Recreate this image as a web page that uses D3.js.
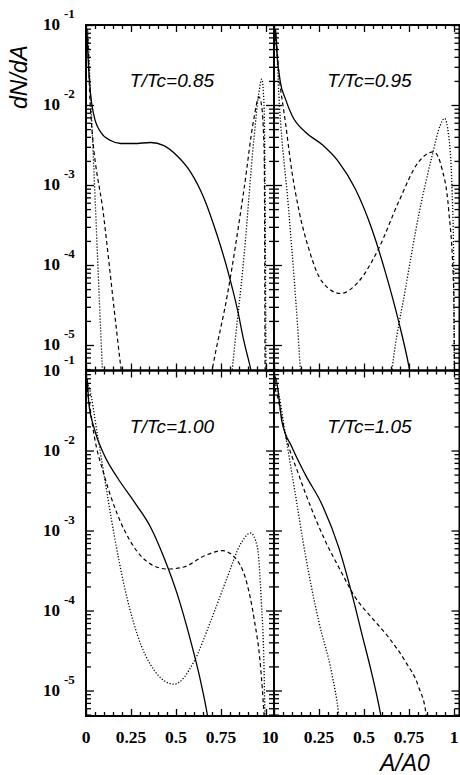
<!DOCTYPE html>
<html>
<head>
<meta charset="utf-8">
<script src="https://cdn.jsdelivr.net/npm/d3@7"></script>
<style>
  body { margin: 0; background: #fff; }
  .tick line { stroke: #000; stroke-width: 1.3; }
  .curve { fill: none; stroke: #000; }
</style>
</head>
<body>
<svg id="chart" width="460" height="775"></svg>
<script>
// [A/A0, dN/dA]
const solid085 = [[0.001,1.1e-1],[0.004,5.6e-2],[0.006,7.9e-2],[0.010,4.5e-2],[0.026,1.32e-2],[0.044,7.4e-3],[0.081,4.6e-3],[0.137,3.6e-3],[0.193,3.3e-3],[0.267,3.3e-3],[0.359,3.4e-3],[0.433,3.1e-3],[0.507,2.3e-3],[0.581,1.45e-3],[0.656,6.8e-4],[0.730,2.3e-4],[0.785,8.9e-5],[0.841,2.8e-5],[0.878,1.1e-5],[0.915,5.0e-6],[0.930,3.5e-6]];
const dashed085a = [[0.001,1.1e-1],[0.005,5.0e-2],[0.008,7.1e-2],[0.022,1.15e-2],[0.100,3.8e-4],[0.193,5.4e-6],[0.200,4.0e-6]];
const dashed085b = [[0.690,3.5e-6],[0.702,5.0e-6],[0.785,4.2e-5],[0.878,8.9e-4],[0.933,6.8e-3],[0.961,1.26e-2],[0.975,1.0e-2],[0.990,2.5e-3],[0.995,3.2e-6]];
const dotted085a = [[0.001,1.1e-1],[0.004,6.3e-2],[0.007,8.9e-2],[0.026,1.2e-2],[0.091,5.0e-6],[0.095,3.2e-6]];
const dotted085b = [[0.805,3.2e-6],[0.813,5.0e-6],[0.878,1.3e-4],[0.933,3.8e-3],[0.960,1.4e-2],[0.977,2.1e-2],[0.989,1.0e-2],[0.996,3.2e-4],[1.000,3.2e-6]];

const solid095 = [[0.001,1.1e-1],[0.004,6.3e-2],[0.007,8.9e-2],[0.017,4.2e-2],[0.035,1.95e-2],[0.063,1.2e-2],[0.100,7.4e-3],[0.174,4.6e-3],[0.267,3.2e-3],[0.359,1.95e-3],[0.452,8.9e-4],[0.544,2.8e-4],[0.619,8.1e-5],[0.693,1.95e-5],[0.748,5.6e-6],[0.760,4.0e-6]];
const dashed095 = [[0.001,1.1e-1],[0.005,5.6e-2],[0.008,7.9e-2],[0.026,2.6e-2],[0.063,6.2e-3],[0.100,1.45e-3],[0.137,5.0e-4],[0.193,1.6e-4],[0.267,6.2e-5],[0.370,4.4e-5],[0.470,6.2e-5],[0.581,1.6e-4],[0.693,6.2e-4],[0.804,1.95e-3],[0.887,2.6e-3],[0.933,1.6e-3],[0.970,5.0e-4],[0.998,5.0e-5],[1.003,3.2e-6]];
const dotted095a = [[0.001,1.1e-1],[0.004,6.3e-2],[0.007,8.9e-2],[0.030,1.0e-2],[0.081,5.0e-4],[0.146,5.0e-6],[0.150,3.5e-6]];
const dotted095b = [[0.648,3.5e-6],[0.656,5.0e-6],[0.730,5.0e-5],[0.804,4.2e-4],[0.878,2.3e-3],[0.924,5.6e-3],[0.948,6.8e-3],[0.970,4.2e-3],[0.989,8.9e-4],[0.998,1.3e-4],[1.002,3.2e-6]];

const solid100 = [[0.001,1.1e-1],[0.004,5.6e-2],[0.007,7.9e-2],[0.015,4.0e-2],[0.044,1.95e-2],[0.100,8.9e-3],[0.174,4.6e-3],[0.267,2.3e-3],[0.359,1.1e-3],[0.433,4.6e-4],[0.507,1.6e-4],[0.581,4.2e-5],[0.637,1.3e-5],[0.674,5.0e-6],[0.685,3.5e-6]];
const dashed100 = [[0.001,1.1e-1],[0.005,6.3e-2],[0.017,4.2e-2],[0.044,1.6e-2],[0.100,5.0e-3],[0.174,1.6e-3],[0.267,6.2e-4],[0.359,3.8e-4],[0.452,3.3e-4],[0.544,3.5e-4],[0.656,4.8e-4],[0.757,5.6e-4],[0.841,4.2e-4],[0.896,2.1e-4],[0.933,8.1e-5],[0.970,1.95e-5],[0.989,5.0e-6],[0.993,3.5e-6]];
const dotted100 = [[0.001,1.1e-1],[0.004,7.1e-2],[0.017,6.2e-2],[0.063,1.6e-2],[0.100,5.0e-3],[0.156,8.9e-4],[0.211,2.1e-4],[0.285,5.0e-5],[0.378,1.8e-5],[0.489,1.2e-5],[0.600,2.3e-5],[0.693,7.4e-5],[0.785,2.6e-4],[0.859,6.8e-4],[0.915,9.3e-4],[0.952,6.2e-4],[0.974,1.3e-4],[0.989,1.95e-5],[0.994,5.0e-6],[0.996,3.2e-6]];

const solid105 = [[0.001,1.1e-1],[0.004,6.3e-2],[0.007,8.3e-2],[0.044,2.3e-2],[0.100,1.1e-2],[0.174,5.0e-3],[0.267,2.1e-3],[0.359,6.2e-4],[0.433,1.6e-4],[0.489,5.0e-5],[0.544,1.6e-5],[0.591,5.2e-6],[0.600,4.0e-6]];
const dashed105 = [[0.001,1.1e-1],[0.005,6.3e-2],[0.017,5.0e-2],[0.063,1.6e-2],[0.137,5.0e-3],[0.211,1.8e-3],[0.285,7.4e-4],[0.359,3.5e-4],[0.452,1.45e-4],[0.544,8.1e-5],[0.637,4.6e-5],[0.730,2.3e-5],[0.804,1.1e-5],[0.844,5.2e-6],[0.850,4.0e-6]];
const dotted105 = [[0.001,1.1e-1],[0.004,7.1e-2],[0.017,6.2e-2],[0.063,1.6e-2],[0.119,2.8e-3],[0.174,5.0e-4],[0.248,7.4e-5],[0.322,1.6e-5],[0.359,5.2e-6],[0.365,4.0e-6]];

const titles = ["T/Tc=0.85", "T/Tc=0.95", "T/Tc=1.00", "T/Tc=1.05"];
const xTickLabels = ["0", "0.25", "0.5", "0.75", "1"];
const yExponents = [-1, -2, -3, -4, -5];

const panels = [
  { col: 0, row: 0, solid: [solid085], dashed: [dashed085a, dashed085b], dotted: [dotted085a, dotted085b] },
  { col: 1, row: 0, solid: [solid095], dashed: [dashed095], dotted: [dotted095a, dotted095b] },
  { col: 0, row: 1, solid: [solid100], dashed: [dashed100], dotted: [dotted100] },
  { col: 1, row: 1, solid: [solid105], dashed: [dashed105], dotted: [dotted105] }
];

const svg = d3.select('#chart');
const perUnit = 180, decade = 80;
const colX = [86, 274];
const rowY = [25, 370.5];
const yMin = 4.8e-6, yMax = 0.1;
const panelH = decade * (Math.log10(yMax) - Math.log10(yMin));
const panelW = 188;
const serif = 'Liberation Serif, Times New Roman, serif';
const sans = 'Liberation Sans, Arial, sans-serif';

const majorY = yExponents.map(e => Math.pow(10, e));
const minorY = [];
for (let e = -6; e <= -2; e++) for (let m = 2; m <= 9; m++) {
  const v = m * Math.pow(10, e);
  if (v >= yMin && v < yMax) minorY.push(v);
}
const majorX = [0, 0.25, 0.5, 0.75, 1];
const minorX = d3.range(0.05, 1.05, 0.05).filter(v => Math.abs(v * 4 - Math.round(v * 4)) > 1e-6);

panels.forEach((p, i) => {
  const x0 = colX[p.col], y0 = rowY[p.row];
  const right = Math.min(x0 + panelW, 459.5);
  const x = d3.scaleLinear().domain([0, (right - x0) / perUnit]).range([x0, right]);
  const y = d3.scaleLog().domain([yMin, yMax]).range([y0 + panelH, y0]);

  const clipId = 'clip' + i;
  svg.append('clipPath').attr('id', clipId).append('rect')
    .attr('x', x0).attr('y', y0).attr('width', right - x0).attr('height', panelH);

  const g = svg.append('g').attr('clip-path', `url(#${clipId})`);
  const line = d3.line().x(d => x(d[0])).y(d => y(d[1])).curve(d3.curveMonotoneX);

  p.solid.forEach(s => g.append('path').attr('class', 'curve').attr('d', line(s)).attr('stroke-width', 1.3));
  p.dashed.forEach(s => g.append('path').attr('class', 'curve').attr('d', line(s))
    .attr('stroke-width', 1.2).attr('stroke-dasharray', '4,3'));
  p.dotted.forEach(s => g.append('path').attr('class', 'curve').attr('d', line(s))
    .attr('stroke', '#222').attr('stroke-width', 1.3).attr('stroke-dasharray', '1.2,1.8'));

  // inward ticks on all four sides
  const tk = (axis, vals, size, tr) => svg.append('g').attr('transform', tr)
    .call(axis.tickValues(vals).tickSize(size).tickFormat(''))
    .call(a => a.select('.domain').remove());
  tk(d3.axisRight(y), majorY, 8, `translate(${x0},0)`);
  tk(d3.axisRight(y), minorY, 5, `translate(${x0},0)`);
  tk(d3.axisLeft(y), majorY, 8, `translate(${right},0)`);
  tk(d3.axisLeft(y), minorY, 5, `translate(${right},0)`);
  tk(d3.axisBottom(x), majorX, 7, `translate(0,${y0})`);
  tk(d3.axisBottom(x), minorX, 4, `translate(0,${y0})`);
  tk(d3.axisTop(x), majorX, 7, `translate(0,${y0 + panelH})`);
  tk(d3.axisTop(x), minorX, 4, `translate(0,${y0 + panelH})`);

  svg.append('rect').attr('x', x0).attr('y', y0).attr('width', right - x0).attr('height', panelH)
    .attr('fill', 'none').attr('stroke', '#000').attr('stroke-width', 2);

  svg.append('text').attr('x', x0 + (p.col === 0 ? 86 : 95.5)).attr('y', y0 + 62)
    .attr('text-anchor', 'middle').attr('font-family', sans)
    .attr('font-style', 'italic').attr('font-size', 19).text(titles[i]);

  if (p.col === 0) {
    majorY.forEach((v, k) => {
      svg.append('text').attr('x', 60).attr('y', y(v) + 5).attr('text-anchor', 'end')
        .attr('font-family', serif).attr('font-weight', 'bold')
        .attr('font-size', 17).text('10');
      svg.append('text').attr('x', 64).attr('y', y(v) - 7)
        .attr('font-family', serif).attr('font-weight', 'bold')
        .attr('font-size', 13).text(String(yExponents[k]));
    });
  }
  if (p.row === 1) {
    majorX.forEach((v, k) => {
      svg.append('text').attr('x', x(v)).attr('y', 743).attr('text-anchor', 'middle')
        .attr('font-family', serif).attr('font-weight', 'bold')
        .attr('font-size', 17.5).text(xTickLabels[k]);
    });
  }
});

svg.append('text').attr('transform', 'translate(27,77) rotate(-90)').attr('text-anchor', 'middle')
  .attr('font-family', sans).attr('font-style', 'italic')
  .attr('font-size', 23).text('dN/dA');
svg.append('text').attr('x', 380).attr('y', 771)
  .attr('font-family', sans).attr('font-style', 'italic')
  .attr('font-size', 23).text('A/A0');
</script>
</body>
</html>
